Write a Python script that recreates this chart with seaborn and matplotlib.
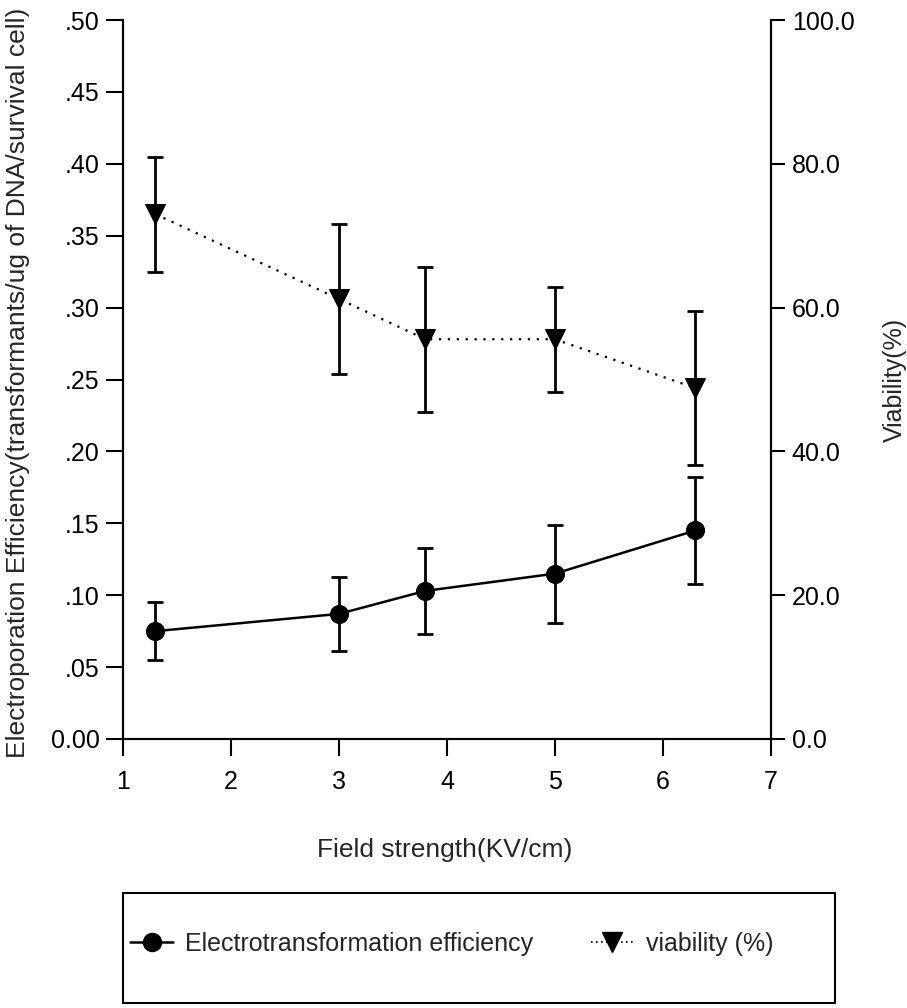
import numpy as np
import pandas as pd
import matplotlib
matplotlib.use("Agg")
import matplotlib.pyplot as plt
import seaborn as sns
from matplotlib.patches import Rectangle
from matplotlib.lines import Line2D

# ---- data ----
field = [1.3, 3.0, 3.8, 5.0, 6.3]
efficiency = [0.075, 0.087, 0.103, 0.115, 0.145]
efficiency_err = [0.020, 0.026, 0.030, 0.034, 0.037]
viability = [73.0, 61.2, 55.6, 55.6, 48.8]
viability_err = [8.0, 10.4, 10.1, 7.3, 10.7]

x_ticks = [1, 2, 3, 4, 5, 6, 7]
left_ticks = [0.00, 0.05, 0.10, 0.15, 0.20, 0.25, 0.30, 0.35, 0.40, 0.45, 0.50]
left_labels = ["0.00", ".05", ".10", ".15", ".20", ".25", ".30", ".35", ".40", ".45", ".50"]
right_ticks = [0, 20, 40, 60, 80, 100]
right_labels = ["0.0", "20.0", "40.0", "60.0", "80.0", "100.0"]

label_eff = "Electrotransformation efficiency"
label_via = "viability (%)"

sns.set_style("ticks")
plt.rcParams["font.family"] = ["Liberation Sans", "DejaVu Sans"]
FS_TICK = 18
FS_LAB = 19
FS_LEG = 18

fig = plt.figure(figsize=(9.07, 10.08), dpi=100)
ax = fig.add_axes([123 / 907, 1 - 739 / 1008, (771 - 123) / 907, (739 - 20) / 1008])
ax2 = ax.twinx()

df = pd.DataFrame({"field": field, "eff": efficiency, "via": viability})

sns.lineplot(data=df, x="field", y="eff", ax=ax, color="black", linewidth=1.8,
             marker="o", markersize=13, markeredgecolor="black", legend=False,
             zorder=3)
ax.errorbar(field, efficiency, yerr=efficiency_err, fmt="none", ecolor="black",
            elinewidth=2, capsize=6, capthick=2, zorder=2)

sns.lineplot(data=df, x="field", y="via", ax=ax2, color="black", linewidth=1.6,
             marker="v", markersize=14, markeredgecolor="black", legend=False,
             zorder=3)
ax2.lines[0].set_linestyle((0, (1, 3)))
ax2.errorbar(field, viability, yerr=viability_err, fmt="none", ecolor="black",
             elinewidth=2, capsize=6, capthick=2, zorder=2)

ax.set_xlim(1, 7)
ax.set_ylim(0, 0.5)
ax2.set_ylim(0, 100)
ax.set_xticks(x_ticks)
ax.set_xticklabels([str(t) for t in x_ticks])
ax.set_yticks(left_ticks)
ax.set_yticklabels(left_labels)
ax2.set_yticks(right_ticks)
ax2.set_yticklabels(right_labels)
ax.set_xlabel("")
ax.set_ylabel("")
ax2.set_ylabel("")

for a in (ax, ax2):
    a.spines["top"].set_visible(False)
    for s in a.spines.values():
        s.set_linewidth(1.5)
        s.set_color("black")
ax.tick_params(axis="x", direction="out", length=12, width=1.5, labelsize=FS_TICK, pad=10, colors="black")
ax.tick_params(axis="y", direction="out", length=12, width=1.5, labelsize=FS_TICK, pad=5, colors="black")
ax2.tick_params(axis="y", direction="out", length=10, width=1.5, labelsize=FS_TICK, pad=5, colors="black")

fig.text(445 / 907, 1 - 850 / 1008, "Field strength(KV/cm)", ha="center", va="center", fontsize=FS_LAB)
fig.text(18 / 907, 1 - 383 / 1008,
         "Electroporation Efficiency(transformants/ug of DNA/survival cell)",
         ha="center", va="center", rotation=90, fontsize=FS_LAB)
fig.text(895 / 907, 1 - 380 / 1008, "Viability(%)", ha="center", va="center",
         rotation=90, fontsize=FS_TICK)

# legend box
fig.patches.append(Rectangle((123 / 907, 1 - 1003 / 1008), (835 - 123) / 907, (1003 - 893) / 1008,
                             transform=fig.transFigure, fill=False, edgecolor="black",
                             linewidth=1.5))
handles = [
    Line2D([], [], color="black", linewidth=1.8, marker="o", markersize=13),
    Line2D([], [], color="black", linewidth=1.2, linestyle=(0, (1, 2)), marker="v", markersize=14),
]
fig.legend(handles, [label_eff, label_via], loc="center",
           bbox_to_anchor=(452 / 907, 1 - 944 / 1008), ncol=2, frameon=False,
           fontsize=FS_LEG, handlelength=1.7, handletextpad=0.5, columnspacing=2.3)

fig.savefig("out.png", dpi=100)
